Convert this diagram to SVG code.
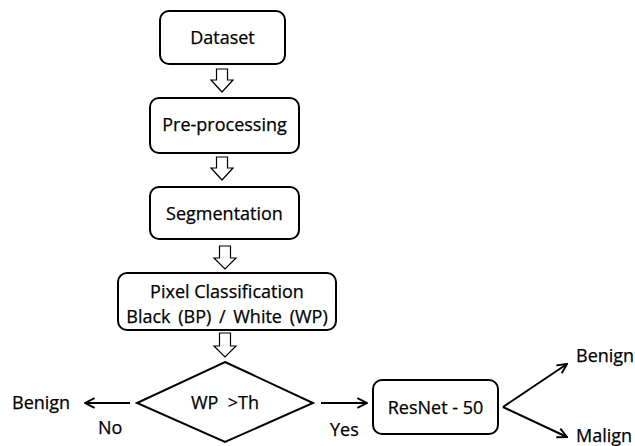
<svg xmlns="http://www.w3.org/2000/svg" width="635" height="446" viewBox="0 0 635 446">
<style>
.box{fill:#fff;stroke:#000;stroke-width:2}
.t{font-family:"Open Sans","Liberation Sans",sans-serif;font-size:18px;fill:#000;stroke:#000;stroke-width:0.25}
.m{text-anchor:middle}
.ha{fill:#fff;stroke:#000;stroke-width:1.2;stroke-linejoin:miter}
.ln{stroke:#000;stroke-width:2;fill:none}
</style>
<defs>
<marker id="ah" viewBox="0 0 10 10" refX="9" refY="5" markerWidth="6" markerHeight="6" orient="auto" markerUnits="strokeWidth">
<path d="M1,1 L9,5 L1,9" fill="none" stroke="#000" stroke-width="1.6"/>
</marker>
</defs>
<rect width="635" height="446" fill="#fff"/>
<g id="connectors">
<polygon class="ha" points="216.5,69 227.5,69 227.5,80 233,80 222,92 211,80 216.5,80"/>
<polygon class="ha" points="216.5,157 227.5,157 227.5,168 233,168 222,180 211,168 216.5,168"/>
<polygon class="ha" points="219.5,246 230.5,246 230.5,258 236,258 225,269 214,258 219.5,258"/>
<polygon class="ha" points="219.5,333 230.5,333 230.5,346 236,346 225,357 214,346 219.5,346"/>
<line class="ln" x1="130" y1="403" x2="85" y2="403" marker-end="url(#ah)"/>
<line class="ln" x1="321" y1="403" x2="367" y2="403" marker-end="url(#ah)"/>
<line class="ln" x1="503" y1="407" x2="567" y2="364" marker-end="url(#ah)"/>
<line class="ln" x1="503" y1="407" x2="567" y2="437" marker-end="url(#ah)"/>
</g>
<g id="dataset">
<rect class="box" x="160" y="11" width="125" height="53" rx="9"/>
<text class="t m" x="222.5" y="44">Dataset</text>
</g>
<g id="preprocessing">
<rect class="box" x="150" y="98" width="149" height="55" rx="9"/>
<text class="t m" x="224.5" y="131">Pre-processing</text>
</g>
<g id="segmentation">
<rect class="box" x="150" y="187" width="149" height="52" rx="9"/>
<text class="t m" x="224.5" y="220">Segmentation</text>
</g>
<g id="pixelclass">
<rect class="box" x="118" y="273" width="218" height="57" rx="9"/>
<text class="t m" x="227" y="298">Pixel Classification</text>
<text class="t m" x="227" y="323" word-spacing="3">Black (BP) / White (WP)</text>
</g>
<g id="decision">
<polygon class="box" points="225,362 313,403 225,442 137,403"/>
<text class="t m" x="225" y="409" xml:space="preserve">WP  &gt;Th</text>
</g>
<g id="resnet">
<rect class="box" x="373" y="380" width="125" height="54" rx="9"/>
<text class="t m" x="435.5" y="414">ResNet - 50</text>
</g>
<g id="benign-left"><text class="t" x="12" y="409">Benign</text></g>
<g id="benign-right"><text class="t" x="576" y="362">Benign</text></g>
<g id="malign"><text class="t" x="576" y="442">Malign</text></g>
<g id="labels">
<text class="t" x="98" y="434">No</text>
<text class="t" x="330" y="436">Yes</text>
</g>
</svg>
